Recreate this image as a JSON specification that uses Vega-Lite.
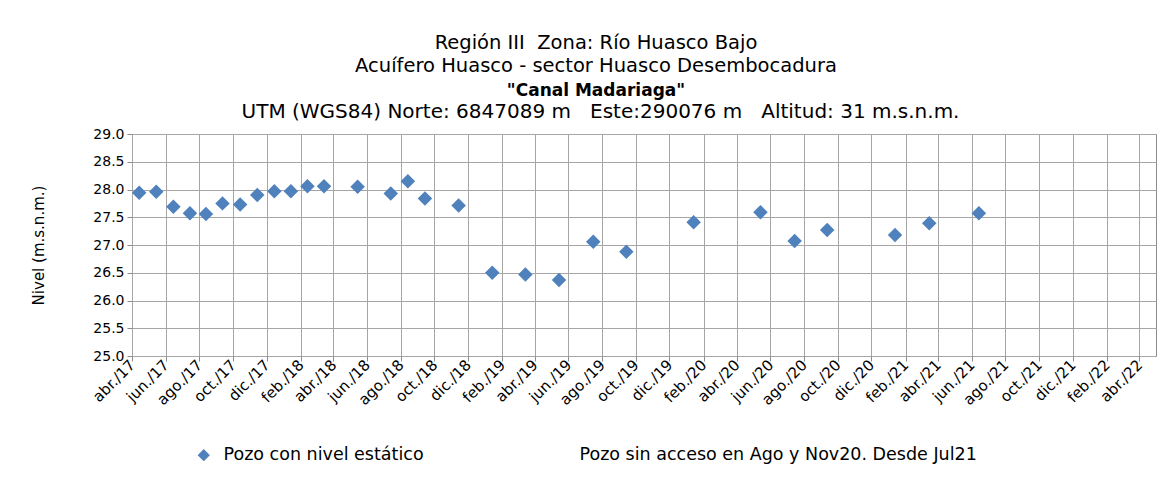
{
  "$schema": "https://vega.github.io/schema/vega-lite/v6.json",
  "width": 1024,
  "height": 222,
  "autosize": {"type": "none"},
  "padding": {"left": 132, "top": 134, "right": 12, "bottom": 123},
  "background": "white",
  "config": {
    "font": "DejaVu Sans",
    "locale": {
      "time": {
        "dateTime": "%A, %e de %B de %Y, %X",
        "date": "%d/%m/%Y",
        "time": "%H:%M:%S",
        "periods": ["AM", "PM"],
        "days": ["domingo", "lunes", "martes", "miércoles", "jueves", "viernes", "sábado"],
        "shortDays": ["dom", "lun", "mar", "mié", "jue", "vie", "sáb"],
        "months": ["enero", "febrero", "marzo", "abril", "mayo", "junio", "julio", "agosto", "septiembre", "octubre", "noviembre", "diciembre"],
        "shortMonths": ["ene.", "feb.", "mar.", "abr.", "may.", "jun.", "jul.", "ago.", "sept.", "oct.", "nov.", "dic."]
      }
    },
    "view": {"stroke": "#8c8c8c", "strokeWidth": 1},
    "axis": {"gridColor": "#a6a6a6", "gridOpacity": 1, "gridWidth": 1}
  },
  "title": {
    "text": ["Región III\u00a0 Zona: Río Huasco Bajo", "Acuífero Huasco - sector Huasco Desembocadura"],
    "subtitle": "\"Canal Madariaga\"",
    "fontSize": 19.5,
    "fontWeight": "normal",
    "color": "black",
    "lineHeight": 23,
    "subtitleFontSize": 17,
    "subtitleFontWeight": "bold",
    "subtitleColor": "black",
    "subtitlePadding": 7,
    "anchor": "middle",
    "dx": -48,
    "offset": 1
  },
  "data": {
    "values": [
      {"fecha": "2017-04-14T00:00:00", "nivel": 27.94, "serie": "Pozo con nivel estático"},
      {"fecha": "2017-05-15T00:00:00", "nivel": 27.96, "serie": "Pozo con nivel estático"},
      {"fecha": "2017-06-15T00:00:00", "nivel": 27.69, "serie": "Pozo con nivel estático"},
      {"fecha": "2017-07-15T00:00:00", "nivel": 27.57, "serie": "Pozo con nivel estático"},
      {"fecha": "2017-08-13T00:00:00", "nivel": 27.56, "serie": "Pozo con nivel estático"},
      {"fecha": "2017-09-12T00:00:00", "nivel": 27.75, "serie": "Pozo con nivel estático"},
      {"fecha": "2017-10-14T00:00:00", "nivel": 27.73, "serie": "Pozo con nivel estático"},
      {"fecha": "2017-11-14T00:00:00", "nivel": 27.90, "serie": "Pozo con nivel estático"},
      {"fecha": "2017-12-15T00:00:00", "nivel": 27.97, "serie": "Pozo con nivel estático"},
      {"fecha": "2018-01-14T00:00:00", "nivel": 27.97, "serie": "Pozo con nivel estático"},
      {"fecha": "2018-02-13T00:00:00", "nivel": 28.06, "serie": "Pozo con nivel estático"},
      {"fecha": "2018-03-15T00:00:00", "nivel": 28.06, "serie": "Pozo con nivel estático"},
      {"fecha": "2018-05-15T00:00:00", "nivel": 28.05, "serie": "Pozo con nivel estático"},
      {"fecha": "2018-07-14T00:00:00", "nivel": 27.93, "serie": "Pozo con nivel estático"},
      {"fecha": "2018-08-14T00:00:00", "nivel": 28.15, "serie": "Pozo con nivel estático"},
      {"fecha": "2018-09-14T00:00:00", "nivel": 27.84, "serie": "Pozo con nivel estático"},
      {"fecha": "2018-11-14T00:00:00", "nivel": 27.71, "serie": "Pozo con nivel estático"},
      {"fecha": "2019-01-14T00:00:00", "nivel": 26.50, "serie": "Pozo con nivel estático"},
      {"fecha": "2019-03-15T00:00:00", "nivel": 26.47, "serie": "Pozo con nivel estático"},
      {"fecha": "2019-05-15T00:00:00", "nivel": 26.37, "serie": "Pozo con nivel estático"},
      {"fecha": "2019-07-16T00:00:00", "nivel": 27.06, "serie": "Pozo con nivel estático"},
      {"fecha": "2019-09-14T00:00:00", "nivel": 26.88, "serie": "Pozo con nivel estático"},
      {"fecha": "2020-01-14T00:00:00", "nivel": 27.41, "serie": "Pozo con nivel estático"},
      {"fecha": "2020-05-14T00:00:00", "nivel": 27.59, "serie": "Pozo con nivel estático"},
      {"fecha": "2020-07-15T00:00:00", "nivel": 27.07, "serie": "Pozo con nivel estático"},
      {"fecha": "2020-09-12T00:00:00", "nivel": 27.27, "serie": "Pozo con nivel estático"},
      {"fecha": "2021-01-13T00:00:00", "nivel": 27.18, "serie": "Pozo con nivel estático"},
      {"fecha": "2021-03-16T00:00:00", "nivel": 27.39, "serie": "Pozo con nivel estático"},
      {"fecha": "2021-06-14T00:00:00", "nivel": 27.57, "serie": "Pozo con nivel estático"}
    ]
  },
  "layer": [
    {
      "mark": {"type": "point", "shape": "diamond", "filled": true, "size": 210, "opacity": 1},
      "encoding": {
        "x": {
          "field": "fecha",
          "type": "temporal",
          "scale": {"domain": [{"year": 2017, "month": 4, "date": 1}, {"year": 2022, "month": 5, "date": 1}]},
          "axis": {
            "orient": "bottom",
            "title": null,
            "values": [
              {"year": 2017, "month": 4, "date": 1}, {"year": 2017, "month": 6, "date": 1}, {"year": 2017, "month": 8, "date": 1}, {"year": 2017, "month": 10, "date": 1}, {"year": 2017, "month": 12, "date": 1},
              {"year": 2018, "month": 2, "date": 1}, {"year": 2018, "month": 4, "date": 1}, {"year": 2018, "month": 6, "date": 1}, {"year": 2018, "month": 8, "date": 1}, {"year": 2018, "month": 10, "date": 1}, {"year": 2018, "month": 12, "date": 1},
              {"year": 2019, "month": 2, "date": 1}, {"year": 2019, "month": 4, "date": 1}, {"year": 2019, "month": 6, "date": 1}, {"year": 2019, "month": 8, "date": 1}, {"year": 2019, "month": 10, "date": 1}, {"year": 2019, "month": 12, "date": 1},
              {"year": 2020, "month": 2, "date": 1}, {"year": 2020, "month": 4, "date": 1}, {"year": 2020, "month": 6, "date": 1}, {"year": 2020, "month": 8, "date": 1}, {"year": 2020, "month": 10, "date": 1}, {"year": 2020, "month": 12, "date": 1},
              {"year": 2021, "month": 2, "date": 1}, {"year": 2021, "month": 4, "date": 1}, {"year": 2021, "month": 6, "date": 1}, {"year": 2021, "month": 8, "date": 1}, {"year": 2021, "month": 10, "date": 1}, {"year": 2021, "month": 12, "date": 1},
              {"year": 2022, "month": 2, "date": 1}, {"year": 2022, "month": 4, "date": 1}
            ],
            "format": "%b/%y",
            "labelAngle": -45,
            "labelAlign": "right",
            "labelBaseline": "middle",
            "labelFontSize": 15,
            "labelColor": "black",
            "labelOverlap": false,
            "labelFlush": false,
            "labelPadding": 1,
            "tickColor": "#8c8c8c",
            "tickSize": 5,
            "domain": false,
            "grid": true
          }
        },
        "y": {
          "field": "nivel",
          "type": "quantitative",
          "scale": {"domain": [25, 29], "nice": false, "zero": false},
          "axis": {
            "values": [25, 25.5, 26, 26.5, 27, 27.5, 28, 28.5, 29],
            "format": ".1f",
            "title": "Nivel (m.s.n.m.)",
            "titleFontSize": 15,
            "titleFontWeight": "normal",
            "titleColor": "black",
            "titlePadding": 46,
            "labelFontSize": 14,
            "labelColor": "black",
            "labelPadding": 3,
            "tickColor": "#8c8c8c",
            "tickSize": 5,
            "domain": false,
            "grid": true
          }
        },
        "color": {
          "field": "serie",
          "type": "nominal",
          "scale": {"domain": ["Pozo con nivel estático", "Pozo sin acceso en Ago y Nov20. Desde Jul21"], "range": ["#4f81bd", "rgba(0,0,0,0)"]},
          "legend": {
            "title": null,
            "orient": "none",
            "legendX": 63,
            "legendY": 312,
            "direction": "horizontal",
            "symbolType": "diamond",
            "symbolSize": 150,
            "symbolStrokeWidth": 0,
            "labelFontSize": 17.5,
            "labelColor": "black",
            "labelOffset": 11,
            "labelLimit": 600,
            "columnPadding": 127
          }
        }
      }
    },
    {
      "mark": {"type": "point", "opacity": 0},
      "encoding": {
        "x": {
          "field": "fecha",
          "type": "temporal",
          "axis": {
            "orient": "top",
            "title": "UTM (WGS84) Norte: 6847089 m\u00a0\u00a0 Este:290076 m\u00a0\u00a0 Altitud: 31 m.s.n.m.",
            "titleFontSize": 20,
            "titleFontWeight": "normal",
            "titleColor": "black",
            "titlePadding": 13,
            "titleX": 468,
            "labels": false,
            "ticks": false,
            "domain": false,
            "grid": false
          }
        }
      }
    }
  ],
  "resolve": {"axis": {"x": "independent"}}
}
